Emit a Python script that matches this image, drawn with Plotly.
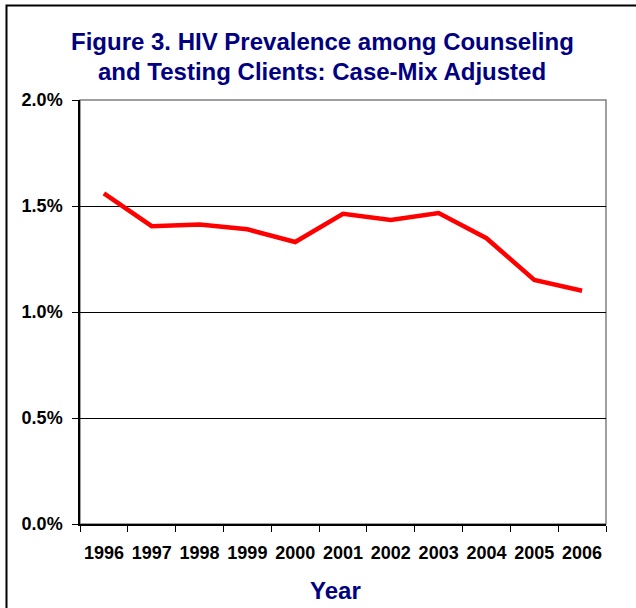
import plotly.graph_objects as go

years = ["1996", "1997", "1998", "1999", "2000", "2001", "2002", "2003", "2004", "2005", "2006"]
prevalence = [1.56, 1.405, 1.413, 1.39, 1.33, 1.463, 1.434, 1.467, 1.348, 1.151, 1.10]
y_ticks = [0.0, 0.5, 1.0, 1.5, 2.0]
title_lines = ["Figure 3. HIV Prevalence among Counseling", "and Testing Clients: Case-Mix Adjusted"]
x_title = "Year"

NAVY = "#000080"
FONT = "Liberation Sans, Arial, sans-serif"

fig = go.Figure()
fig.add_trace(go.Scatter(
    x=years, y=prevalence, mode="lines",
    line=dict(color="#FF0000", width=4.5),
    showlegend=False, hoverinfo="skip",
))

L, R, T, B = 80, 30, 100, 84
W, H = 636, 608
pw, ph = W - L - R, H - T - B

def px_x(x):
    return (x - L) / pw

def px_y(y):
    return (H - B - y) / ph

fig.update_layout(
    width=W, height=H,
    margin=dict(l=L, r=R, t=T, b=B, pad=0),
    paper_bgcolor="white", plot_bgcolor="white",
    font=dict(family=FONT, color="black"),
    xaxis=dict(
        type="category", range=[-0.5, 10.5], automargin=False,
        showline=True, linecolor="black", linewidth=1.5,
        ticks="outside", ticklen=6, tickcolor="black", tickwidth=1,
        tickson="boundaries", showgrid=False, zeroline=False,
        tickangle=0,
        tickfont=dict(family=FONT, size=18, color="black", weight="bold"),
        ticklabelstandoff=12,
    ),
    yaxis=dict(
        range=[0, 2.0], tickvals=y_ticks, automargin=False,
        ticktext=[f"<b>{v:.1f}%</b>" for v in y_ticks],
        showline=True, linecolor="black", linewidth=1.5,
        ticks="outside", ticklen=6, tickcolor="black", tickwidth=1,
        showgrid=True, gridcolor="black", gridwidth=1,
        zeroline=False,
        tickfont=dict(family=FONT, size=18, color="black"),
        ticklabelstandoff=6,
    ),
    shapes=[
        dict(type="rect", xref="paper", yref="paper", x0=0, x1=1, y0=0, y1=1,
             line=dict(color="#808080", width=1.5), layer="below"),
        dict(type="path", xref="paper", yref="paper",
             path=f"M {px_x(640)} {px_y(5.5)} L {px_x(6.5)} {px_y(5.5)} L {px_x(6.5)} {px_y(615)}",
             line=dict(color="black", width=2)),
    ],
    annotations=[
        dict(text="<b>" + title_lines[0] + "</b>", xref="paper", yref="paper",
             x=px_x(322), y=px_y(42), showarrow=False, xanchor="center", yanchor="middle",
             font=dict(family=FONT, size=24, color=NAVY)),
        dict(text="<b>" + title_lines[1] + "</b>", xref="paper", yref="paper",
             x=px_x(322), y=px_y(72), showarrow=False, xanchor="center", yanchor="middle",
             font=dict(family=FONT, size=24, color=NAVY)),
        dict(text="<b>" + x_title + "</b>", xref="paper", yref="paper",
             x=px_x(335), y=px_y(590), showarrow=False, xanchor="center", yanchor="middle",
             font=dict(family=FONT, size=24, color=NAVY)),
    ],
)

fig.write_html("out.html", config={"displayModeBar": False},
               post_script="document.body.style.margin='0';document.body.style.overflow='hidden';")
